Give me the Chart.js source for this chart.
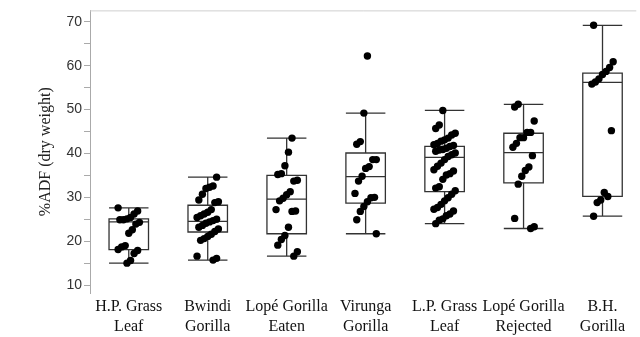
<!DOCTYPE html>
<html><head><meta charset="utf-8">
<script src="https://cdn.jsdelivr.net/npm/chart.js@4/dist/chart.umd.min.js"></script>
<style>html,body{margin:0;padding:0;background:#fff}#wrap{width:640px;height:337px;position:relative}</style>
</head><body><div id="wrap"><canvas id="c"></canvas></div>
<script>
const categories = [["H.P. Grass","Leaf"],["Bwindi","Gorilla"],["Lopé Gorilla","Eaten"],["Virunga","Gorilla"],["L.P. Grass","Leaf"],["Lopé Gorilla","Rejected"],["B.H.","Gorilla"]];
const whiskerLow  = [15.0, 15.7, 16.6, 21.7, 24.0, 22.9, 25.7];
const q1          = [18.1, 22.1, 21.7, 28.7, 31.3, 33.3, 30.2];
const median      = [24.4, 24.5, 29.6, 34.7, 39.1, 40.2, 56.2];
const q3          = [25.1, 28.2, 35.0, 40.1, 41.6, 44.6, 58.3];
const whiskerHigh = [27.6, 34.6, 43.5, 49.2, 49.8, 51.2, 69.2];

const hpGrassLeaf = [27.6, 26.9, 26.2, 25.4, 25.1, 24.9, 24.9, 24.3, 23.9, 22.6, 21.8, 19.0, 18.7, 18.1, 17.9, 17.2, 15.6, 15.0];
const bwindiGorilla = [34.6, 32.6, 32.3, 32.0, 30.7, 29.4, 29.0, 28.8, 27.2, 26.6, 26.2, 25.8, 25.4, 25.0, 24.7, 24.4, 24.1, 23.6, 23.2, 22.8, 22.2, 21.6, 21.1, 20.6, 20.2, 16.6, 16.1, 15.7];
const lopeEaten = [43.5, 40.3, 37.2, 35.4, 35.2, 33.9, 33.7, 31.3, 30.6, 29.8, 29.2, 27.2, 26.9, 26.8, 23.2, 21.3, 20.4, 19.1, 17.6, 16.6];
const virungaGorilla = [62.2, 49.2, 42.7, 42.1, 38.6, 38.6, 37.0, 36.6, 34.8, 33.7, 30.9, 30.0, 29.9, 29.0, 27.9, 26.8, 24.9, 21.7];
const lpGrassLeaf = [49.8, 46.5, 45.7, 44.6, 44.2, 43.5, 43.1, 42.8, 42.3, 42.0, 41.8, 41.6, 41.2, 40.9, 40.8, 40.5, 40.1, 39.7, 39.3, 38.6, 37.8, 37.1, 36.3, 36.0, 35.4, 35.1, 34.1, 32.4, 32.1, 31.5, 30.7, 29.9, 29.2, 28.4, 27.7, 27.3, 26.9, 26.2, 25.8, 25.1, 24.8, 24.0];
const lopeRejected = [51.2, 50.6, 47.4, 44.8, 44.8, 43.6, 43.6, 42.3, 41.4, 39.5, 36.9, 36.1, 34.8, 33.0, 25.2, 23.3, 22.9];
const bhGorilla = [69.2, 60.9, 59.6, 58.7, 58.0, 57.0, 56.3, 55.8, 45.2, 30.2, 31.1, 29.4, 28.8, 25.7];
const groupValues = [hpGrassLeaf, bwindiGorilla, lopeEaten, virungaGorilla, lpGrassLeaf, lopeRejected, bhGorilla];
const yTicks = [10, 15, 20, 25, 30, 35, 40, 45, 50, 55, 60, 65, 70];

// deterministic horizontal jitter (drawing only)
const points = [];
groupValues.forEach((vals, g) => vals.forEach((v, i) => {
  const h = ((i * 37 + g * 11) % 13) / 12 - 0.5;
  points.push({ x: g + 1 + h * 0.27, y: v });
}));

const boxPlugin = {
  id: 'boxes',
  beforeDatasetsDraw(chart) {
    const { ctx, chartArea, scales: { x, y } } = chart;
    ctx.save();
    ctx.strokeStyle = '#cfcfcf';
    ctx.lineWidth = 1;
    ctx.beginPath();
    ctx.moveTo(chartArea.left, chartArea.top + 0.5);
    ctx.lineTo(chartArea.right, chartArea.top + 0.5);
    ctx.stroke();
    ctx.strokeStyle = '#333';
    ctx.lineWidth = 1.3;
    categories.forEach((c, g) => {
      const cx = x.getPixelForValue(g + 1);
      const hw = x.getPixelForValue(g + 1.25) - cx;
      const yq1 = y.getPixelForValue(q1[g]), yq3 = y.getPixelForValue(q3[g]);
      const ym = y.getPixelForValue(median[g]);
      const ylo = y.getPixelForValue(whiskerLow[g]), yhi = y.getPixelForValue(whiskerHigh[g]);
      ctx.beginPath();
      ctx.rect(cx - hw, yq3, 2 * hw, yq1 - yq3);
      ctx.moveTo(cx - hw, ym); ctx.lineTo(cx + hw, ym);
      ctx.moveTo(cx, yq3); ctx.lineTo(cx, yhi);
      ctx.moveTo(cx, yq1); ctx.lineTo(cx, ylo);
      ctx.moveTo(cx - hw, yhi); ctx.lineTo(cx + hw, yhi);
      ctx.moveTo(cx - hw, ylo); ctx.lineTo(cx + hw, ylo);
      ctx.stroke();
    });
    ctx.restore();
  }
};

new Chart(document.getElementById('c'), {
  type: 'scatter',
  data: { datasets: [{ data: points, backgroundColor: '#000', borderWidth: 0, pointRadius: 3.7, pointHoverRadius: 3.7 }] },
  options: {
    responsive: true, maintainAspectRatio: false, animation: false,
    layout: { padding: { top: 8, right: 0, left: 0, bottom: 0 } },
    plugins: { legend: { display: false }, tooltip: { enabled: false } },
    scales: {
      x: {
        type: 'linear', min: 0.509, max: 7.428,
        afterBuildTicks: (s) => { s.ticks = categories.map((c, i) => ({ value: i + 1 })); },
        afterFit: (s) => { s.height = 44; },
        ticks: { callback: (v) => categories[v - 1] || '', font: { family: 'Liberation Serif', size: 16, lineHeight: 1.3 }, color: '#111', padding: -5, maxRotation: 0, autoSkip: false },
        grid: { display: false }, border: { display: false }
      },
      y: {
        min: 8.2, max: 72.6,
        afterBuildTicks: (s) => { s.ticks = yTicks.map(v => ({ value: v })); },
        afterFit: (s) => { s.width = 90; },
        ticks: { callback: (v) => (v % 10 === 0 ? v : ''), font: { family: 'Liberation Sans', size: 14 }, color: '#333', padding: 2 },
        grid: { drawOnChartArea: false, drawTicks: true, tickLength: 6, color: '#aaa' },
        border: { display: true, color: '#aaa' },
        title: { display: true, text: '%ADF (dry weight)', font: { family: 'Liberation Serif', size: 16 }, color: '#222', padding: { top: 36, bottom: 0 } }
      }
    }
  },
  plugins: [boxPlugin]
});
</script>
</body></html>
